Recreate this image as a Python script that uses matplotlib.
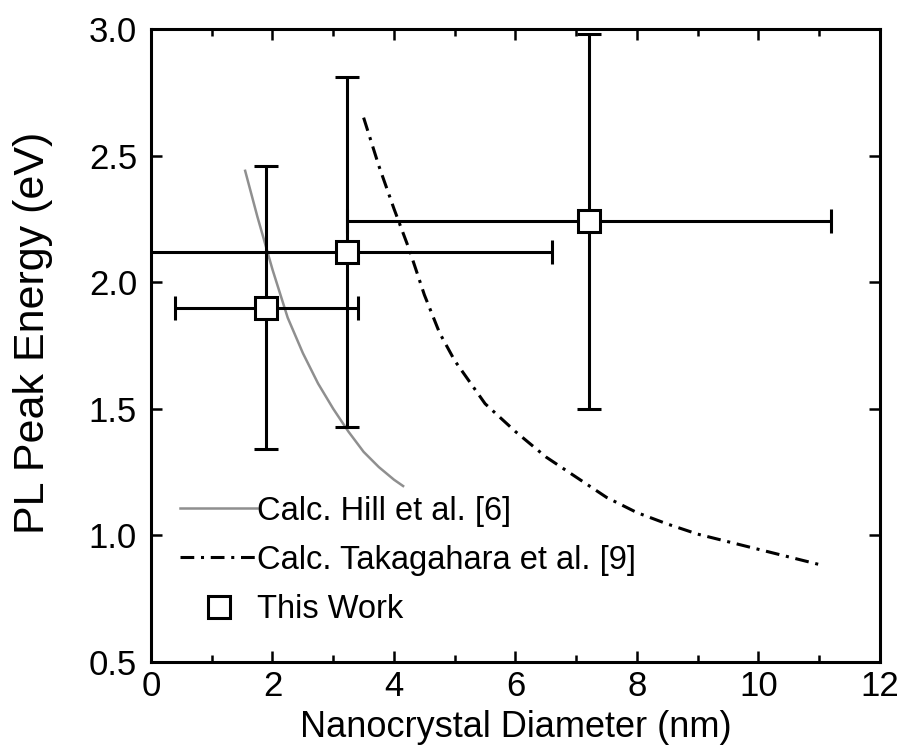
import matplotlib
matplotlib.use('Agg')
import matplotlib.pyplot as plt
from matplotlib.lines import Line2D
from matplotlib.ticker import MultipleLocator

plt.rcParams['font.family'] = ['Liberation Sans', 'DejaVu Sans']

# measured PL peaks with size / energy spread
diam = [1.90, 3.22, 7.21]
energy = [1.90, 2.12, 2.24]
diam_err = [1.50, 3.38, 3.98]
energy_err = [0.56, 0.69, 0.74]

# Hill et al. calculation
hill_d = [1.55, 1.75, 2.0, 2.25, 2.5, 2.75, 3.0, 3.25, 3.5, 3.75, 4.0, 4.15]
hill_e = [2.44, 2.26, 2.05, 1.86, 1.72, 1.60, 1.50, 1.41, 1.33, 1.27, 1.22, 1.195]

# Takagahara et al. calculation
taka_d = [3.5, 3.75, 4.0, 4.25, 4.5, 4.75, 5.0, 5.5, 6.0, 6.5, 7.0, 7.5,
          8.0, 8.5, 9.0, 9.5, 10.0, 10.5, 11.0]
taka_e = [2.65, 2.46, 2.29, 2.13, 1.95, 1.80, 1.69, 1.52, 1.41, 1.31, 1.23, 1.15,
          1.09, 1.045, 1.005, 0.975, 0.945, 0.915, 0.885]

hill_style = dict(color='#8f8f8f', lw=1.8)
taka_style = dict(color='black', lw=2.2, linestyle=(0, (4.5, 2.2, 1, 2.2)))

fig = plt.figure(figsize=(9.02, 7.46), dpi=100)
ax = fig.add_axes([0.1674, 0.1126, 0.8082, 0.8485])

ax.plot(hill_d, hill_e, zorder=1, **hill_style)
ax.plot(taka_d, taka_e, zorder=1, **taka_style)
ax.errorbar(diam, energy, xerr=diam_err, yerr=energy_err, fmt='s', ms=16,
            mfc='white', mec='black', mew=2.2, ecolor='black',
            elinewidth=2.2, capsize=8.3, capthick=2.2, zorder=3)

ax.set_xlim(0, 12)
ax.set_ylim(0.5, 3.0)
ax.xaxis.set_major_locator(MultipleLocator(2))
ax.xaxis.set_minor_locator(MultipleLocator(1))
ax.yaxis.set_major_locator(MultipleLocator(0.5))
ax.yaxis.set_major_formatter(plt.FormatStrFormatter('%.1f'))
ax.tick_params(which='both', direction='in', top=True, right=True, width=1.8)
ax.tick_params(which='major', length=8, labelsize=25)
ax.tick_params(axis='x', which='major', pad=6)
ax.tick_params(axis='y', which='major', pad=10)
ax.tick_params(which='minor', length=5)
for sp in ax.spines.values():
    sp.set_linewidth(2.2)

ax.set_xlabel('Nanocrystal Diameter (nm)', fontsize=26)
ax.xaxis.set_label_coords(0.5, -0.0755)
ax.set_ylabel('PL Peak Energy (eV)', fontsize=31)
ax.yaxis.set_label_coords(-0.135, 0.52)

handles = [
    Line2D([], [], **hill_style),
    Line2D([], [], **taka_style),
    Line2D([], [], color='black', marker='s', ms=16, mfc='white',
           mec='black', mew=2.2, linestyle='none'),
]
labels = ['Calc. Hill et al. [6]', 'Calc. Takagahara et al. [9]', 'This Work']
ax.legend(handles, labels, loc='upper left', bbox_to_anchor=(0.04, 0.263),
          frameon=False, fontsize=23.5, handlelength=2.35, handletextpad=0.0,
          labelspacing=0.56, borderpad=0, borderaxespad=0)

fig.savefig('out.png', dpi=100)
